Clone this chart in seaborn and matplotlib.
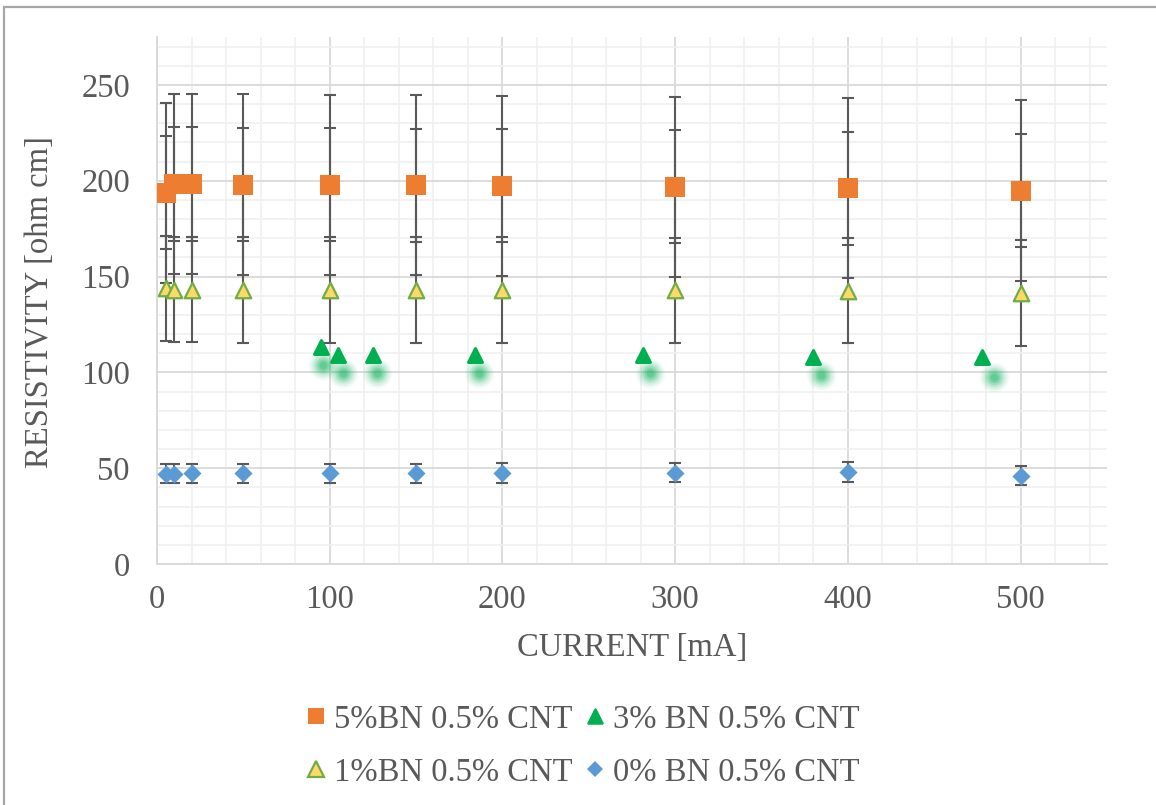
import numpy as np
import pandas as pd
import matplotlib
matplotlib.use("Agg")
import matplotlib.pyplot as plt
import seaborn as sns
from matplotlib.markers import MarkerStyle
from matplotlib.patches import Rectangle
from matplotlib.lines import Line2D
from matplotlib.ticker import MultipleLocator

# ---------------- data ----------------
current = [5, 10, 20, 50, 100, 150, 200, 300, 400, 500]
bn5 = [193.7, 198.3, 198.3, 198.0, 197.8, 197.7, 197.4, 196.9, 196.0, 194.9]
bn1 = [143.8, 143.1, 143.1, 143.0, 143.0, 143.0, 142.9, 142.8, 142.6, 141.4]
bn0 = [47.2, 47.2, 47.3, 47.3, 47.3, 47.4, 47.5, 47.6, 48.0, 46.1]
bn3_current = [95, 105, 125, 184, 281.5, 380, 477.5]
bn3 = [113.4, 109.1, 109.1, 109.1, 109.1, 108.2, 107.9]
# blurred glow ("shadow") points of the 3% series
bn3_glow_current = [96.2, 107.5, 127.1, 186.5, 285.7, 384.7, 484.4]
bn3_glow = [103.9, 99.5, 99.5, 99.5, 99.6, 98.7, 97.8]

bn5_err_outer = 47.0
bn5_err_inner = 29.5
bn1_err = 27.5
bn0_err = 5.0

labels = ["5%BN 0.5% CNT", "3% BN 0.5% CNT", "1%BN 0.5% CNT", "0% BN 0.5% CNT"]
x_ticks = [0, 100, 200, 300, 400, 500]
y_ticks = [0, 50, 100, 150, 200, 250]

# ---------------- style ----------------
sns.set_theme(style="white")
plt.rcParams['font.family'] = ['Liberation Serif', 'DejaVu Serif']

C_ORANGE = "#ED7D31"
C_GREEN = "#00B050"
C_YELLOW = "#FFD966"
C_YEDGE = "#70AD47"
C_BLUE = "#5B9BD5"
C_TEXT = "#595959"
C_ERR = "#595959"
C_GRID = "#D9D9D9"
C_MINOR = "#F0F0F0"

W, H = 1156, 805
fig = plt.figure(figsize=(W / 100, H / 100), dpi=100)
fig.patch.set_facecolor("white")

# chart border (Excel chart area)
fig.add_artist(Rectangle((4 / W, -0.2), 2.0, 1.2 - 7 / H, transform=fig.transFigure,
                         fill=False, edgecolor="#A6A6A6", linewidth=1.6))

ax = fig.add_axes([157 / W, 241 / H, 950 / W, 527 / H])
ax.set_xlim(0, 550)
ax.set_ylim(0, 275)

ax.xaxis.set_major_locator(MultipleLocator(100))
ax.xaxis.set_minor_locator(MultipleLocator(20))
ax.yaxis.set_major_locator(MultipleLocator(50))
ax.yaxis.set_minor_locator(MultipleLocator(10))
ax.set_xticks(x_ticks)
ax.set_yticks(y_ticks)
ax.set_xticklabels([str(v) for v in x_ticks])
ax.set_yticklabels([str(v) for v in y_ticks])

ax.grid(which="minor", color=C_MINOR, linewidth=1.2, zorder=0)
ax.grid(which="major", color=C_GRID, linewidth=1.3, zorder=0)
ax.set_axisbelow(True)

for side in ["top", "right"]:
    ax.spines[side].set_visible(False)
for side in ["left", "bottom"]:
    ax.spines[side].set_color(C_GRID)
    ax.spines[side].set_linewidth(1.3)

ax.tick_params(axis="both", which="major", length=6.5, width=1.3, color=C_GRID,
               labelsize=23.5, labelcolor=C_TEXT, direction="out")
ax.tick_params(axis="y", which="major", pad=13)
ax.tick_params(axis="x", which="major", pad=8)
ax.tick_params(axis="both", which="minor", length=0)

# ---------------- error bars ----------------
eb_kw = dict(fmt="none", ecolor=C_ERR, elinewidth=1.5, capsize=4.5, capthick=1.5, zorder=3)
ax.errorbar(current, bn5, yerr=bn5_err_outer, **eb_kw)
ax.errorbar(current, bn5, yerr=bn5_err_inner, **eb_kw)
ax.errorbar(current, bn1, yerr=bn1_err, **eb_kw)
ax.errorbar(current, bn0, yerr=bn0_err, **eb_kw)

# ---------------- glow of 3% series ----------------
glow_df = pd.DataFrame({"x": bn3_glow_current, "y": bn3_glow})
for s_, a_ in [(460, 0.04), (360, 0.06), (270, 0.08), (190, 0.11), (125, 0.15), (70, 0.2), (30, 0.22)]:
    sns.scatterplot(data=glow_df, x="x", y="y", s=s_, color=C_GREEN, alpha=a_,
                    linewidth=0, ax=ax, legend=False, zorder=4)

# ---------------- markers ----------------
df5 = pd.DataFrame({"x": current, "y": bn5})
df1 = pd.DataFrame({"x": current, "y": bn1})
df0 = pd.DataFrame({"x": current, "y": bn0})
df3 = pd.DataFrame({"x": bn3_current, "y": bn3})

tri_round = MarkerStyle("^", joinstyle="round")

sns.scatterplot(data=df5, x="x", y="y", marker="s", s=205, color=C_ORANGE,
                linewidth=0, ax=ax, legend=False, zorder=5)
sns.scatterplot(data=df1, x="x", y="y", marker="^", s=125, color=C_YELLOW,
                edgecolor=C_YEDGE, linewidth=1.6, ax=ax, legend=False, zorder=5)
sns.scatterplot(data=df0, x="x", y="y", marker="D", s=85, color=C_BLUE,
                linewidth=0, ax=ax, legend=False, zorder=5)
sns.scatterplot(data=df3, x="x", y="y", marker=tri_round, s=100, color=C_GREEN,
                edgecolor=C_GREEN, linewidth=2.2, ax=ax, legend=False, zorder=6)

ax.set_xlabel("CURRENT [mA]", fontsize=23.5, color=C_TEXT)
ax.set_ylabel("RESISTIVITY [ohm cm]", fontsize=23.5, color=C_TEXT)
ax.xaxis.set_label_coords(0.5, -0.13)
ax.yaxis.set_label_coords(-0.107, 0.497)

# ---------------- legend ----------------
h5 = Line2D([], [], linestyle="none", marker="s", markersize=12, markerfacecolor=C_ORANGE,
            markeredgewidth=0)
h3 = Line2D([], [], linestyle="none", marker=tri_round, markersize=9.5, markerfacecolor=C_GREEN,
            markeredgecolor=C_GREEN, markeredgewidth=1.8)
h1 = Line2D([], [], linestyle="none", marker="^", markersize=11, markerfacecolor=C_YELLOW,
            markeredgecolor=C_YEDGE, markeredgewidth=1.6)
h0 = Line2D([], [], linestyle="none", marker="D", markersize=8.5, markerfacecolor=C_BLUE,
            markeredgewidth=0)
leg = fig.legend([h5, h1, h3, h0], [labels[0], labels[2], labels[1], labels[3]],
                 ncol=2, loc="center", bbox_to_anchor=(583 / W, 1 - 746 / H),
                 frameon=False, fontsize=23.5, handlelength=0.6, handletextpad=0.25,
                 columnspacing=0.4, labelspacing=0.68, borderpad=0)
for t in leg.get_texts():
    t.set_color(C_TEXT)

fig.savefig("out.png", dpi=100, facecolor="white")
